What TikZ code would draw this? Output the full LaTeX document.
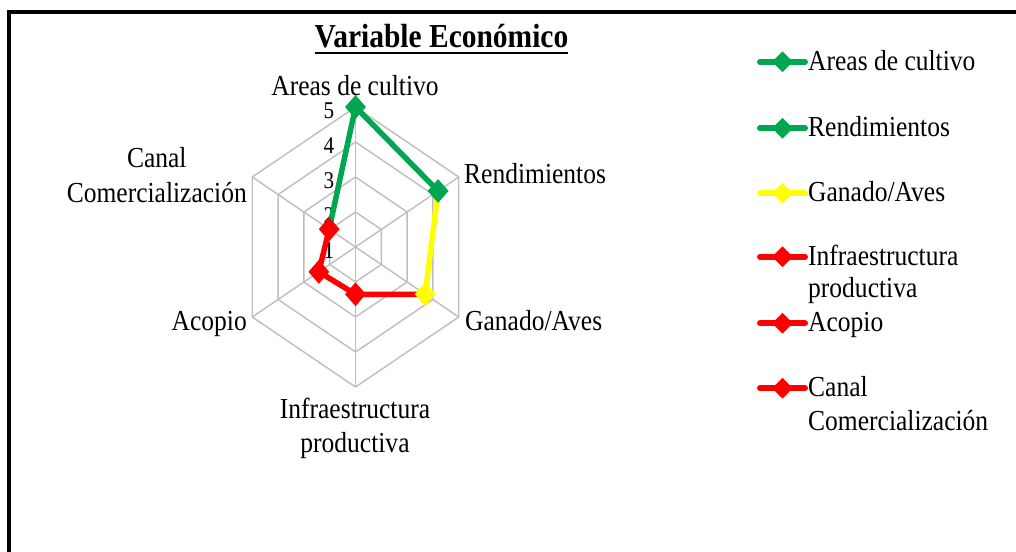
\documentclass[tikz,border=0pt]{standalone}
\usepackage{fontspec}
\setmainfont{Liberation Serif}[FakeStretch=0.88]
\usetikzlibrary{shapes.geometric}
\definecolor{cgreen}{RGB}{0,166,80}
\definecolor{cyellow}{RGB}{255,255,0}
\definecolor{cred}{RGB}{255,0,0}
\definecolor{cgrid}{RGB}{190,190,190}
\begin{document}
\begin{tikzpicture}[x=1pt,y=-1pt,
  lbl/.style={inner sep=0pt, font=\fontsize{29}{34}\selectfont},
  ttl/.style={inner sep=0pt, font=\fontsize{33.5}{38}\selectfont\bfseries},
  num/.style={inner sep=0pt, font=\fontsize{24}{26}\selectfont},
  gridline/.style={draw=cgrid, line width=1.4pt},
  serie/.style={line width=5.5pt, line cap=round, draw=#1},
  mk/.style={diamond, fill=#1, inner sep=0pt, minimum width=21pt, minimum height=24pt},
  legline/.style={line width=6pt, line cap=round, draw=#1},
  legmk/.style={diamond, fill=#1, inner sep=0pt, minimum width=21pt, minimum height=21pt},
]
\useasboundingbox (0,0) rectangle (1016,551);
\fill[white] (0,0) rectangle (1016,551);
\clip (0,0) rectangle (1016,551);
\draw[line width=3.5pt] (9,600) -- (9,12) -- (1100,12);

% title
\node[ttl, anchor=base] (title) at (441.5,48) {Variable Económico};
\draw[line width=2pt] ([yshift=-5pt]title.base west) -- ([yshift=-5pt]title.base east);

% radar
\coordinate (C) at (355.5,247);
\begin{scope}[shift={(C)}, x=29.8pt, y=35pt]
  \foreach \r in {1,2,3,4}
    \draw[gridline] (90:\r) -- (30:\r) -- (-30:\r) -- (-90:\r) -- (210:\r) -- (150:\r) -- cycle;
  \foreach \a in {90,30,-30,-90,210,150}
    \draw[gridline] (0,0) -- (\a:4);
  \foreach \r/\v in {0/1,1/2,2/3,3/4,4/5}
    \node[num, anchor=east] (n\v) at ([xshift=-21pt,yshift=-4pt]90:\r) {\v};
  \coordinate (pA) at (90:4);
  \coordinate (pR) at (30:3.2);
  \coordinate (pG) at (-30:2.7);
  \coordinate (pI) at (-90:1.35);
  \coordinate (pAc) at (210:1.42);
  \coordinate (pC) at (150:1.02);
\end{scope}
\draw[serie=cgreen] (pA) -- (pR);
\draw[serie=cyellow] (pR) -- (pG);
\draw[serie=cred] (pG) -- (pI);
\draw[serie=cred] (pI) -- (pAc);
\draw[serie=cred] (pAc) -- (pC);
\draw[serie=cgreen] (pC) -- (pA);
\node[mk=cgreen] (mA) at (pA) {};
\node[mk=cgreen] (mR) at (pR) {};
\node[mk=cyellow] (mG) at (pG) {};
\node[mk=cred] (mI) at (pI) {};
\node[mk=cred] (mAc) at (pAc) {};
\node[mk=cred] (mC) at (pC) {};

% axis labels
\node[lbl, anchor=base] (lA) at (355,95) {Areas de cultivo};
\node[lbl, anchor=base west] (lR) at (464,183) {Rendimientos};
\node[lbl, anchor=base west] (lG) at (465,330) {Ganado/Aves};
\node[lbl, anchor=base] (lI1) at (355,418) {Infraestructura};
\node[lbl, anchor=base] (lI2) at (355,452) {productiva};
\node[lbl, anchor=base east] (lAc) at (247,330) {Acopio};
\node[lbl, anchor=base east] (lC2) at (247,202) {Comercialización};
\node[lbl, anchor=base] (lC1) at ([yshift=35pt]lC2.base) {Canal};

% legend
\foreach \y/\c/\t/\n in {61.7/cgreen/Areas de cultivo/1, 128.3/cgreen/Rendimientos/2, 193.3/cyellow/Ganado\slash Aves/3, 256.7/cred/Infraestructura/4, 323.3/cred/Acopio/5, 388.3/cred/Canal/6}{
  \coordinate (ls\n) at (760,\y);
  \coordinate (le\n) at (805,\y);
  \draw[legline=\c] (ls\n) -- (le\n);
  \node[legmk=\c] (lm\n) at (782.5,\y) {};
  \node[lbl, anchor=base west] (lt\n) at (808,\y+8.5) {\t};
}
\node[lbl, anchor=base west] (lt4b) at (808,297) {productiva};
\node[lbl, anchor=base west] (lt6b) at (808,430) {Comercialización};
\end{tikzpicture}
\end{document}
